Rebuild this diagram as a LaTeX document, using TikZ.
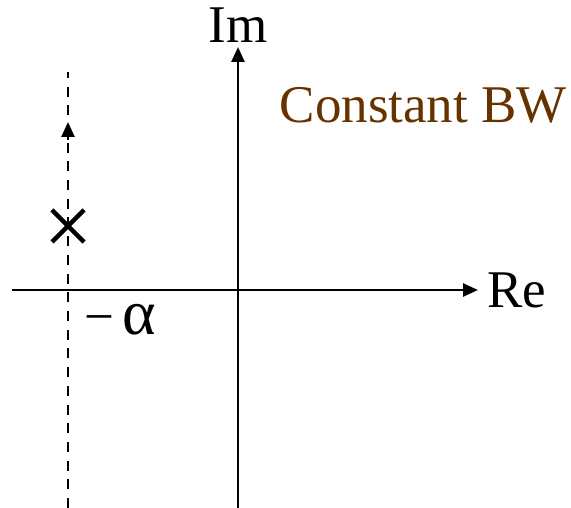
\documentclass[tikz,border=0pt]{standalone}
\usepackage{fontspec}
\setmainfont{Liberation Serif}
\usetikzlibrary{arrows.meta}
\definecolor{bwbrown}{RGB}{102,51,0}

\begin{document}
\begin{tikzpicture}[x=1pt,y=-1pt,
  axis/.style={line width=2.6pt,-{Triangle[length=15pt,width=13pt]}},
  locus/.style={line width=2.6pt,dash pattern=on 10pt off 8.7pt},
  lbl/.style={inner sep=0pt,font=\fontsize{53}{56}\selectfont}]
\path[use as bounding box] (0,0) rectangle (571,508);
% axes
\coordinate (xl) at (12,290);
\coordinate (xr) at (478,290);
\coordinate (yb) at (238,508);
\coordinate (yt) at (238,47);
\draw[axis] (xl)--(xr);
\draw[axis] (yb)--(yt);
\node[lbl,anchor=west] (re) at (487,290) {Re};
\node[lbl,anchor=base] (im) at (238,43) {Im};
% constant bandwidth locus
\coordinate (lb) at (68,508);
\coordinate (lt) at (68,72);
\coordinate (la) at (68,122);
\draw[locus] (lb)--(lt);
\draw[-{Triangle[length=15pt,width=13pt]},line width=2.6pt] (68,140)--(la);
\node[lbl,anchor=west] (alpha) at (84,320) {−\,{\fontsize{64}{66}\selectfont α}};
% pole
\node (pole) at (68,226) {};
\draw[line width=4.5pt] (52,210)--(84,242) (52,242)--(84,210);
\node[lbl,text=bwbrown,anchor=east] (bw) at (567,105) {Constant BW};
\end{tikzpicture}
\end{document}
